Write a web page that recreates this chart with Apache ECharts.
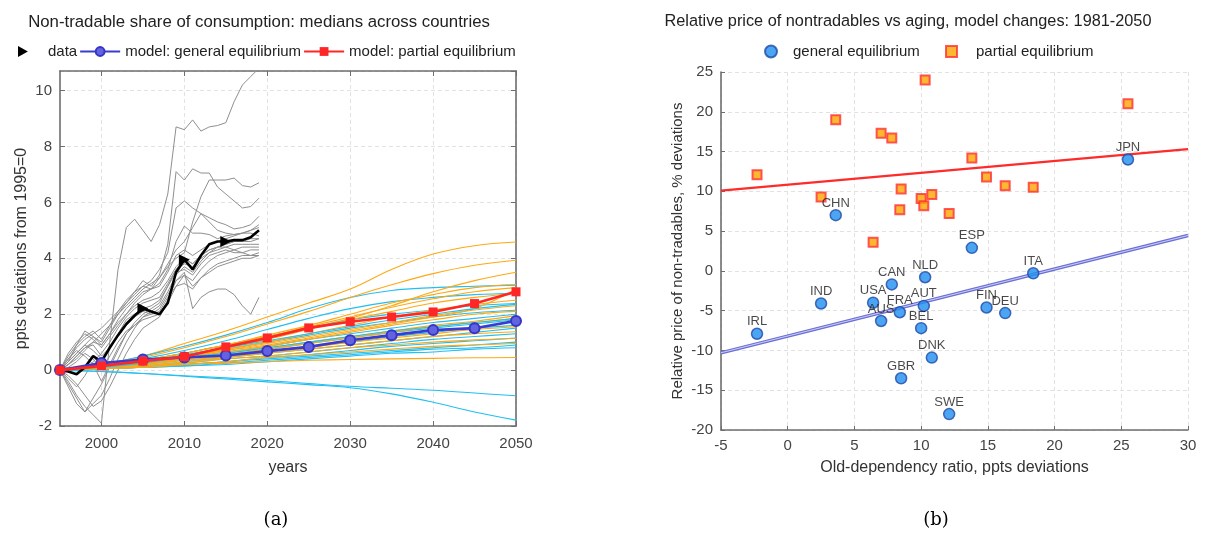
<!DOCTYPE html>
<html>
<head>
<meta charset="utf-8">
<script src="https://cdn.jsdelivr.net/npm/echarts@6/dist/echarts.min.js"></script>
<style>
  html, body { margin: 0; padding: 0; background: #ffffff; }
  #chart { width: 1217px; height: 535px; }
</style>
</head>
<body>
<div id="chart"></div>
<script>
// ---------- Panel (a): non-tradable share of consumption ----------
const dataYears = [1995,1996,1997,1998,1999,2000,2001,2002,2003,2004,2005,2006,2007,2008,2009,2010,2011,2012,2013,2014,2015,2016,2017,2018,2019];
const modelYears = [1995,2000,2005,2010,2015,2020,2025,2030,2035,2040,2045,2050];
const yearTicks = [2000,2010,2020,2030,2040,2050];

// country-level observed shares (ppts from 1995)
const countryData = [
  [0,-0.4,-0.9,-1.3,-1.6,-1.9,1.0,3.6,5.1,5.4,5.0,4.6,5.2,6.3,8.7,8.6,8.95,8.55,8.7,8.75,8.85,9.6,10.2,10.5,10.8],
  [0,0.3,0.6,0.9,1.2,1.0,1.5,2.0,2.4,2.8,3.2,3.0,3.4,4.5,7.1,6.8,7.2,7.05,7.05,6.55,6.3,6.05,5.8,5.85,6.15],
  [0,0.2,0.5,0.8,1.0,0.9,1.3,1.7,2.0,2.4,2.7,2.9,3.3,3.7,4.0,4.2,5.3,6.2,6.8,6.8,6.8,6.87,6.6,6.55,6.7],
  [0,0.5,0.9,1.2,1.4,1.1,1.6,2.1,2.5,2.8,3.0,3.2,3.6,4.2,5.8,6.05,5.8,5.6,5.3,5.0,4.9,4.85,4.9,5.0,5.2],
  [0,0.2,0.4,0.7,1.0,1.3,1.6,2.0,2.3,2.6,2.9,3.1,3.3,3.8,4.3,4.6,5.1,5.6,5.45,5.3,5.2,5.05,5.1,5.2,5.5],
  [0,0.4,0.8,1.1,1.3,1.5,1.8,2.1,2.4,2.7,3.0,2.9,3.1,3.6,4.6,5.15,4.9,4.9,4.85,4.7,4.8,4.85,4.9,4.9,4.8],
  [0,0.6,1.0,1.3,1.1,0.8,1.2,1.6,2.0,2.3,2.5,2.6,2.8,3.2,3.7,4.0,3.8,4.1,4.3,4.4,4.5,4.6,4.6,4.7,4.7],
  [0,-0.3,-0.6,-0.2,0.3,0.6,1.0,1.5,1.9,2.2,2.4,2.5,2.6,3.1,3.6,3.8,3.7,4.0,4.2,4.3,4.4,4.5,4.5,4.5,4.5],
  [0,0.2,0.5,0.8,0.9,0.5,0.8,1.3,1.8,2.0,2.2,2.3,2.5,3.0,3.5,3.6,3.4,3.8,4.1,4.2,4.3,4.2,4.2,4.3,4.3],
  [0,-0.5,-1.0,-1.5,-1.2,-0.9,-0.3,0.4,1.0,1.5,1.9,2.1,2.3,2.8,3.4,3.7,3.5,3.9,4.2,4.4,4.4,4.3,4.2,4.1,4.1],
  [0,0.3,0.6,0.9,0.7,0.4,0.8,1.2,1.6,1.9,2.1,2.0,2.2,2.7,3.2,3.5,2.2,2.6,2.8,2.9,2.9,2.7,2.3,2.0,2.6],
  [0,0.4,0.7,0.5,0.2,-0.4,0.2,0.8,1.3,1.6,1.8,1.9,2.0,2.5,3.2,3.4,3.0,3.3,3.6,3.8,3.9,4.0,4.1,4.1,4.2],
  [0,-0.6,-1.2,-1.5,-1.0,-0.5,0.1,0.7,1.3,1.7,2.0,2.2,2.4,3.0,3.6,4.0,3.8,4.1,4.3,4.4,4.5,4.6,4.6,4.6,4.7],
  [0,0.3,0.9,1.4,1.2,0.9,1.3,1.8,2.2,2.5,2.8,2.9,3.0,3.5,4.1,4.3,4.1,4.3,4.5,4.6,4.7,4.8,4.9,5.0,5.1],
  [0,0.1,0.3,0.6,0.4,0.0,0.5,1.0,1.4,1.6,1.9,2.0,2.1,2.6,3.0,3.1,2.9,3.3,3.5,3.7,3.8,3.9,4.0,4.0,4.1],
  [0,-0.2,-0.5,-0.9,-1.3,-1.1,-0.6,0.0,0.6,1.1,1.5,1.7,1.9,2.4,3.0,3.4,3.2,3.6,3.9,4.1,4.2,4.3,4.4,4.4,4.4]
];

// country-level model paths, partial equilibrium
const countryPE = [
  [0,0.2,0.5,0.95,1.4,1.9,2.4,2.9,3.6,4.15,4.45,4.58],
  [0,0.2,0.45,0.8,1.2,1.65,2.1,2.6,3.05,3.45,3.75,3.93],
  [0,0.15,0.35,0.6,0.9,1.2,1.5,1.85,2.3,2.8,3.2,3.5],
  [0,0.15,0.35,0.6,0.9,1.25,1.6,2.0,2.4,2.7,2.95,3.06],
  [0,0.15,0.35,0.6,0.9,1.2,1.55,1.9,2.25,2.55,2.8,2.95],
  [0,0.1,0.3,0.55,0.8,1.1,1.45,1.8,2.1,2.4,2.6,2.75],
  [0,0.1,0.3,0.5,0.75,1.0,1.3,1.6,1.9,2.15,2.35,2.5],
  [0,0.1,0.25,0.45,0.7,0.95,1.2,1.45,1.7,1.95,2.15,2.3],
  [0,0.1,0.25,0.45,0.65,0.85,1.1,1.35,1.6,1.8,2.0,2.1],
  [0,0.1,0.2,0.4,0.55,0.75,0.95,1.15,1.35,1.55,1.7,1.85],
  [0,0.05,0.2,0.35,0.5,0.65,0.8,1.0,1.15,1.3,1.45,1.55],
  [0,0.05,0.15,0.3,0.45,0.6,0.75,0.9,1.05,1.2,1.3,1.37],
  [0,0.05,0.15,0.25,0.4,0.5,0.65,0.8,0.9,1.0,1.08,1.13],
  [0,0.05,0.1,0.2,0.3,0.45,0.55,0.65,0.75,0.85,0.9,0.95],
  [0,0.05,0.1,0.2,0.25,0.3,0.35,0.38,0.4,0.42,0.44,0.45],
  [0,0.1,0.3,0.5,0.7,0.9,1.15,1.4,1.65,1.9,2.2,2.9],
  [0,0.1,0.25,0.4,0.6,0.8,1.0,1.2,1.4,1.6,1.75,1.95]
];

// country-level model paths, general equilibrium
const countryGE = [
  [0,0.2,0.5,0.85,1.25,1.7,2.2,2.6,2.85,2.95,3.0,3.04],
  [0,0.15,0.4,0.7,1.05,1.45,1.85,2.2,2.45,2.6,2.7,2.75],
  [0,0.15,0.35,0.6,0.9,1.2,1.5,1.8,2.0,2.15,2.3,2.38],
  [0,0.1,0.3,0.5,0.75,1.0,1.25,1.5,1.7,1.9,2.05,2.14],
  [0,0.1,0.25,0.45,0.65,0.85,1.1,1.3,1.5,1.7,1.85,2.0],
  [0,0.1,0.2,0.4,0.55,0.75,0.95,1.15,1.35,1.5,1.65,1.8],
  [0,0.05,0.2,0.35,0.5,0.65,0.85,1.0,1.2,1.35,1.5,1.6],
  [0,0.05,0.15,0.3,0.45,0.6,0.75,0.9,1.05,1.2,1.35,1.5],
  [0,0.05,0.15,0.25,0.4,0.5,0.65,0.8,0.95,1.1,1.2,1.3],
  [0,0.05,0.1,0.2,0.3,0.45,0.55,0.7,0.85,0.95,1.05,1.15],
  [0,0.05,0.1,0.2,0.3,0.4,0.5,0.6,0.7,0.8,0.9,1.0],
  [0,0.05,0.1,0.15,0.25,0.35,0.45,0.55,0.65,0.75,0.8,0.9],
  [0,0.05,0.1,0.15,0.2,0.3,0.4,0.5,0.6,0.65,0.75,0.8],
  [0,-0.05,-0.12,-0.2,-0.28,-0.37,-0.48,-0.58,-0.65,-0.72,-0.82,-0.92],
  [0,-0.05,-0.12,-0.22,-0.32,-0.42,-0.52,-0.63,-0.85,-1.15,-1.5,-1.79],
  [0,0.1,0.3,0.55,0.8,1.05,1.3,1.55,1.8,2.0,2.2,2.35],
  [0,0.1,0.25,0.45,0.6,0.8,1.0,1.2,1.4,1.55,1.7,1.85]
];

// medians across countries
const medianData = [0,-0.05,-0.15,0.1,0.5,0.3,0.8,1.25,1.65,1.95,2.2,2.1,2.0,2.4,3.5,3.95,3.6,4.1,4.5,4.6,4.6,4.65,4.65,4.75,5.0];
const medianGE = [0,0.25,0.38,0.45,0.52,0.68,0.83,1.07,1.25,1.43,1.5,1.76];
const medianPE = [0,0.15,0.32,0.48,0.83,1.15,1.51,1.73,1.9,2.08,2.38,2.8];

// ---------- Panel (b): relative price vs aging ----------
const countries = ['IRL','IND','CHN','USA','AUS','CAN','FRA','GBR','BEL','AUT','NLD','DNK','SWE','ESP','FIN','DEU','ITA','JPN'];
const agingChange = [-2.3,2.5,3.6,6.4,7.0,7.8,8.4,8.5,10.0,10.2,10.3,10.8,12.1,13.8,14.9,16.3,18.4,25.5];
const priceGE = [-7.9,-4.1,7.0,-4.0,-6.3,-1.7,-5.2,-13.5,-7.2,-4.4,-0.8,-10.9,-18.0,2.9,-4.6,-5.3,-0.3,14.0];
const pricePE = [12.1,9.3,19.0,3.6,17.3,16.7,7.7,10.3,9.1,8.2,24.0,9.6,7.2,14.2,11.8,10.7,10.5,21.0];
// fitted lines, evaluated at the x-axis ends
const fitX = [-5, 30];
const fitGE = [-10.3, 4.45];
const fitPE = [10.1, 15.3];

// ---------- styling helpers ----------
const FONT = 'Liberation Sans, Arial, sans-serif';
const axisGray = '#6e6e6e';
const gridDash = { color: '#e2e2e2', type: [4, 3], width: 1 };
const zip = (xs, ys) => xs.map((x, i) => [x, ys[i]]);

const series = [];

// observed country paths
countryData.forEach(vals => series.push({
  type: 'line', xAxisIndex: 0, yAxisIndex: 0,
  data: zip(dataYears, vals), symbol: 'none', silent: true,
  lineStyle: { color: '#8f8f8f', width: 1 }
}));

// model country paths (PE orange, GE cyan)
countryPE.forEach((vals, i) => {
  series.push({
    type: 'line', xAxisIndex: 0, yAxisIndex: 0,
    data: zip(modelYears, vals), symbol: 'none', smooth: 0.4, silent: true,
    lineStyle: { color: '#ffa813', width: 1.1 }
  });
  if (countryGE[i]) series.push({
    type: 'line', xAxisIndex: 0, yAxisIndex: 0,
    data: zip(modelYears, countryGE[i]), symbol: 'none', smooth: 0.4, silent: true,
    lineStyle: { color: '#22bff0', width: 1.1 }
  });
});

// medians
series.push({
  name: 'data', type: 'line', xAxisIndex: 0, yAxisIndex: 0,
  data: zip(dataYears, medianData),
  symbol: v => (v[0] % 5 === 0 && v[0] >= 2005) ? 'triangle' : 'none',
  symbolRotate: -90, symbolSize: 11, showAllSymbol: true,
  itemStyle: { color: '#000000' },
  lineStyle: { color: '#000000', width: 2.6 }, z: 5
});
series.push({
  name: 'model: general equilibrium', type: 'line', xAxisIndex: 0, yAxisIndex: 0,
  data: zip(modelYears, medianGE), symbol: 'circle', symbolSize: 10, showAllSymbol: true,
  itemStyle: { color: '#6363df', borderColor: '#3535c8', borderWidth: 2 },
  lineStyle: { color: '#3b3bd0', width: 2.6 }, z: 6
});
series.push({
  name: 'model: partial equilibrium', type: 'line', xAxisIndex: 0, yAxisIndex: 0,
  data: zip(modelYears, medianPE), symbol: 'rect', symbolSize: 9, showAllSymbol: true,
  itemStyle: { color: '#ff2626' },
  lineStyle: { color: '#ff2626', width: 2.6 }, z: 7
});

// panel (b) fit lines
series.push({
  type: 'line', xAxisIndex: 2, yAxisIndex: 2, data: zip(fitX, fitPE),
  symbol: 'none', silent: true, lineStyle: { color: '#ff2a2a', width: 2.2 }
});
series.push({
  type: 'line', xAxisIndex: 2, yAxisIndex: 2, data: zip(fitX, fitGE),
  symbol: 'none', silent: true, lineStyle: { color: '#6a6fd4', width: 3.4 }
});
series.push({
  type: 'line', xAxisIndex: 2, yAxisIndex: 2, data: zip(fitX, fitGE),
  symbol: 'none', silent: true, lineStyle: { color: '#c9cbf4', width: 1.1 }
});

// panel (b) scatter points
series.push({
  name: 'partial equilibrium', type: 'scatter', xAxisIndex: 2, yAxisIndex: 2,
  data: countries.map((c, i) => ({ name: c, value: [agingChange[i], pricePE[i]] })),
  symbol: 'rect', symbolSize: 9,
  itemStyle: { color: '#ffa500', borderColor: '#ff2f2f', borderWidth: 2 }, z: 3
});
series.push({
  name: 'general equilibrium', type: 'scatter', xAxisIndex: 2, yAxisIndex: 2,
  data: countries.map((c, i) => ({ name: c, value: [agingChange[i], priceGE[i]] })),
  symbol: 'circle', symbolSize: 11,
  itemStyle: { color: '#1f8ff0', borderColor: '#1f4aa8', borderWidth: 1.5 },
  label: {
    show: true, position: 'inside', offset: [0, -12],
    formatter: p => p.name, color: '#1a1a1a', fontSize: 13, fontFamily: FONT
  }, z: 4
});

const tickLabel = { color: '#444', fontSize: 15, fontFamily: FONT };
const axisNameStyle = { color: '#333', fontSize: 16, fontFamily: FONT };
const legendText = { color: '#222', fontSize: 15, fontFamily: FONT };

const option = {
  animation: false,
  backgroundColor: '#ffffff',
  grid: [
    { left: 60, top: 71, width: 456, height: 355 },
    { left: 721, top: 72, width: 467, height: 358 }
  ],
  xAxis: [
    { // panel (a) bottom
      type: 'value', gridIndex: 0, min: 1995, max: 2050,
      name: 'years', nameLocation: 'middle', nameGap: 34, nameTextStyle: axisNameStyle,
      axisLine: { onZero: false, lineStyle: { color: axisGray, width: 1.6 } },
      axisTick: { inside: true, length: 5, lineStyle: { color: axisGray }, customValues: yearTicks },
      axisLabel: Object.assign({ margin: 10, customValues: yearTicks, formatter: v => String(v) }, tickLabel),
      splitLine: { show: true, lineStyle: gridDash }
    },
    { // panel (a) top frame
      type: 'value', gridIndex: 0, min: 1995, max: 2050, position: 'top',
      axisLine: { onZero: false, lineStyle: { color: axisGray, width: 1.6 } },
      axisTick: { inside: true, length: 5, lineStyle: { color: axisGray }, customValues: yearTicks },
      axisLabel: { show: false }, splitLine: { show: false }
    },
    { // panel (b)
      type: 'value', gridIndex: 1, min: -5, max: 30, interval: 5,
      name: 'Old-dependency ratio, ppts deviations', nameLocation: 'middle', nameGap: 30,
      nameTextStyle: axisNameStyle,
      axisLine: { onZero: false, lineStyle: { color: axisGray, width: 1.6 } },
      axisTick: { inside: true, length: 4, lineStyle: { color: axisGray } },
      axisLabel: Object.assign({ margin: 8 }, tickLabel),
      splitLine: { show: true, lineStyle: gridDash }
    }
  ],
  yAxis: [
    { // panel (a) left
      type: 'value', gridIndex: 0, min: -2, max: 10.7, interval: 2,
      name: 'ppts deviations from 1995=0', nameLocation: 'middle', nameGap: 30,
      nameTextStyle: axisNameStyle,
      axisLine: { onZero: false, lineStyle: { color: axisGray, width: 1.6 } },
      axisTick: { inside: true, length: 5, lineStyle: { color: axisGray } },
      axisLabel: Object.assign({ margin: 8, showMaxLabel: false }, tickLabel),
      splitLine: { show: true, lineStyle: gridDash }
    },
    { // panel (a) right frame
      type: 'value', gridIndex: 0, min: -2, max: 10.7, interval: 2, position: 'right',
      axisLine: { show: true, onZero: false, lineStyle: { color: axisGray, width: 1.6 } },
      axisTick: { show: true, inside: true, length: 5, lineStyle: { color: axisGray } },
      axisLabel: { show: false }, splitLine: { show: false }
    },
    { // panel (b)
      type: 'value', gridIndex: 1, min: -20, max: 25, interval: 5,
      name: 'Relative price of non-tradables, % deviations', nameLocation: 'middle', nameGap: 36,
      nameTextStyle: Object.assign({}, axisNameStyle, { fontSize: 15 }),
      axisLine: { onZero: false, lineStyle: { color: axisGray, width: 1.6 } },
      axisTick: { inside: true, length: 4, lineStyle: { color: axisGray } },
      axisLabel: Object.assign({ margin: 8 }, tickLabel),
      splitLine: { show: true, lineStyle: gridDash }
    }
  ],
  legend: [
    {
      left: 13, top: 39, itemWidth: 40, itemHeight: 11, itemGap: 2,
      textStyle: legendText,
      data: [
        { name: 'data', icon: 'path://M0,0 L9,5 L0,10 Z' },
        'model: general equilibrium',
        'model: partial equilibrium'
      ]
    },
    {
      left: 759, top: 39, itemWidth: 12, itemHeight: 12,
      textStyle: Object.assign({ padding: [0, 0, 0, 11] }, legendText),
      data: ['general equilibrium']
    },
    {
      left: 940, top: 39, itemWidth: 11, itemHeight: 11,
      textStyle: Object.assign({ padding: [0, 0, 0, 14] }, legendText),
      data: [{ name: 'partial equilibrium', icon: 'rect' }]
    }
  ],
  graphic: [
    { type: 'text', x: 259, y: 22, style: { text: 'Non-tradable share of consumption: medians across countries',
      font: '16.8px ' + FONT, fill: '#222', align: 'center', verticalAlign: 'middle' } },
    { type: 'text', x: 908, y: 22, style: { text: 'Relative price of nontradables vs aging, model changes: 1981-2050',
      font: '16.3px ' + FONT, fill: '#222', align: 'center', verticalAlign: 'middle' } },
    { type: 'text', x: 276, y: 520, style: { text: '(a)', font: '18px DejaVu Serif, serif', fill: '#000',
      align: 'center', verticalAlign: 'middle' } },
    { type: 'text', x: 936, y: 520, style: { text: '(b)', font: '18px DejaVu Serif, serif', fill: '#000',
      align: 'center', verticalAlign: 'middle' } }
  ],
  series: series
};

const chart = echarts.init(document.getElementById('chart'), null, { renderer: 'canvas' });
chart.setOption(option);
</script>
</body>
</html>
